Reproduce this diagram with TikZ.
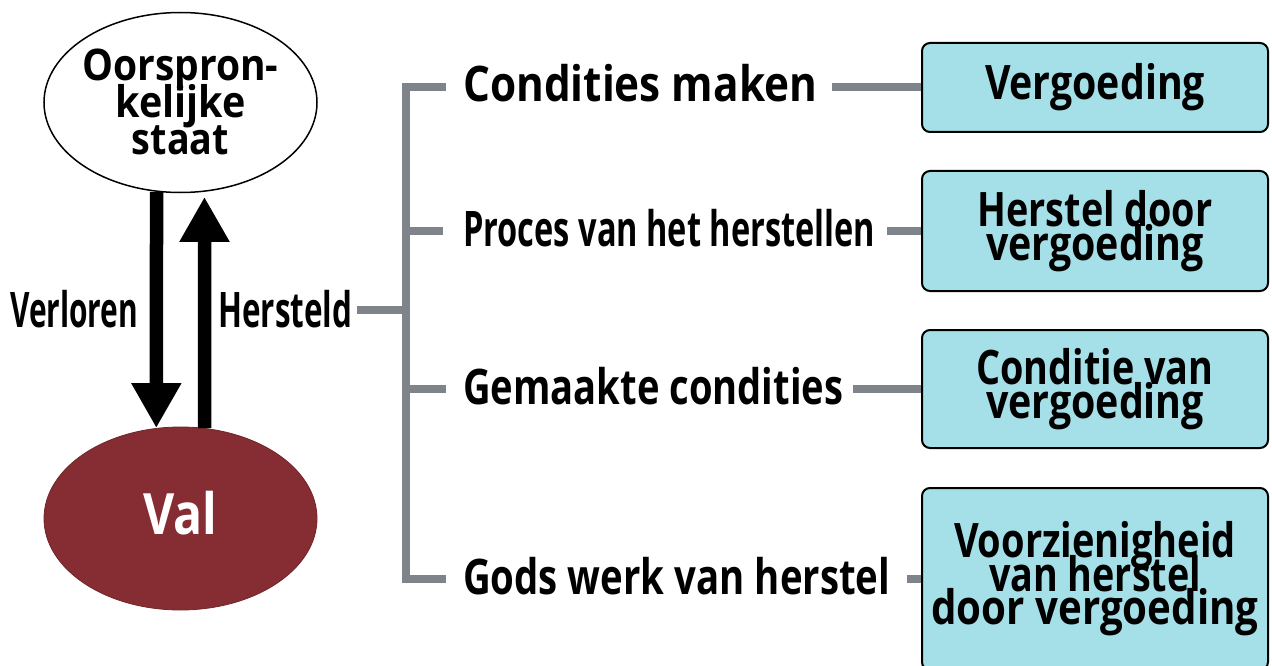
\documentclass[tikz,border=0pt]{standalone}
\usepackage{fontspec}
\setmainfont{Open Sans}
\usetikzlibrary{shapes.geometric,arrows.meta}
\definecolor{treegray}{HTML}{7E8489}
\definecolor{boxcyan}{HTML}{A5E0E8}
\definecolor{valred}{HTML}{852D33}
\newcommand{\hw}[2]{\resizebox{#1}{\height}{#2}}
\newcommand{\labfont}{\bfseries\fontsize{49}{33}\selectfont\lineskiplimit=-100pt}
\newcommand{\boxfont}{\bfseries\fontsize{47.5}{33.5}\selectfont\lineskiplimit=-100pt}
\newcommand{\ovfont}{\bfseries\fontsize{43.5}{37}\selectfont\lineskiplimit=-100pt}
\newcommand{\valfont}{\bfseries\fontsize{57}{57}\selectfont}
\begin{document}
\begin{tikzpicture}[x=1pt,y=-1pt,
  lab/.style={inner sep=0pt, anchor=base west, font=\labfont},
  box/.style={draw=black, line width=2pt, rounded corners=8pt, fill=boxcyan,
    minimum width=346pt, align=center, inner sep=0pt, font=\boxfont},
  tree/.style={draw=treegray, line width=8pt},
  bigarrow/.style={line width=13.5pt, -{Triangle[width=47pt,length=45pt]}},
  oval/.style={ellipse, inner sep=0pt, minimum width=273pt}
  ]
\useasboundingbox (0,0) rectangle (1272,666);

% ellipses
\node[oval, draw=black, line width=1.5pt, fill=white, minimum height=180pt] (top) at (180.5,102.5) {};
\node[oval, fill=valred, draw=valred!85!black, line width=0.8pt, minimum height=183pt] (val) at (180.5,518.5) {};
\node[inner sep=0pt, align=center, font=\ovfont] (toptext) at (180.5,102.1)
  {\hw{196pt}{Oorspron-}\\\hw{130pt}{kelijke}\\\hw{97pt}{staat}};
\node[inner sep=0pt, anchor=base, font=\valfont, text=white] (valtext) at (180.5,534) {\hw{74pt}{Val}};

% arrows
\draw[bigarrow] (top.-105) -- (val.105);
\draw[bigarrow, shorten >=5pt] (val.75) -- (top.-75);

% side labels
\node[lab] (ver) at (10,327) {\hw{128pt}{Verloren}};
\node[lab] (her) at (218,327) {\hw{134pt}{Hersteld}};

% middle labels
\node[lab] (l1) at (463,102) {\hw{354pt}{Condities maken}};
\node[lab] (l2) at (463,246) {\hw{412pt}{Proces van het herstellen}};
\node[lab] (l3) at (463,404) {\hw{380pt}{Gemaakte condities}};
\node[lab] (l4) at (463,594) {\hw{427pt}{Gods werk van herstel}};

% boxes
\node[box, minimum height=89pt] (v1) at (1095,87.5) {\hw{220pt}{Vergoeding}};
\node[box, minimum height=120pt] (v2) at (1095,231) {\hw{235pt}{Herstel door}\\\hw{218pt}{vergoeding}};
\node[box, minimum height=118pt] (v3) at (1095,389) {\hw{237pt}{Conditie van}\\\hw{218pt}{vergoeding}};
\node[box, minimum height=182pt] (v4) at (1095,579) {\hw{282pt}{Voorzienigheid}\\\hw{212pt}{van herstel}\\\hw{327pt}{door vergoeding}};

% tree
\coordinate (t0) at (406,310);
\coordinate (t1) at (406,87);
\coordinate (t2) at (406,231);
\coordinate (t3) at (406,389);
\coordinate (t4) at (406,579);
\draw[tree] ([xshift=5pt]her.east |- t0) -- (t0);
\draw[tree] ([xshift=-17pt]l1.west |- t1) -- (t1) -- (t4) -- ([xshift=-17pt]l4.west |- t4);
\draw[tree] (t2) -- ([xshift=-20pt]l2.west |- t2);
\draw[tree] (t3) -- ([xshift=-17pt]l3.west |- t3);
\draw[tree] ([xshift=15pt]l1.east |- t1) -- (v1.west |- t1);
\draw[tree] ([xshift=12pt]l2.east |- t2) -- (v2.west |- t2);
\draw[tree] ([xshift=10pt]l3.east |- t3) -- (v3.west |- t3);
\draw[tree] ([xshift=17pt]l4.east |- t4) -- (v4.west |- t4);
\end{tikzpicture}
\end{document}
